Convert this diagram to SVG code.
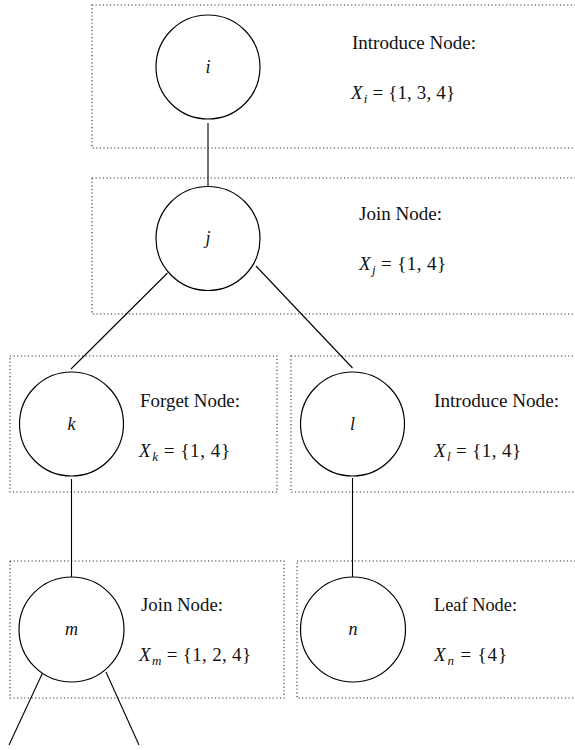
<svg xmlns="http://www.w3.org/2000/svg" width="575" height="750" viewBox="0 0 575 750">
<style>
.box{fill:none;stroke:#222;stroke-width:1.1;stroke-dasharray:1.1 2.5}
.c{fill:#fff;stroke:#000;stroke-width:1.2}
.e{stroke:#000;stroke-width:1.1;fill:none}
text{font-family:"Liberation Serif","DejaVu Serif",serif;font-size:19px;fill:#111}
.v{font-style:italic;text-anchor:middle;font-size:18px}
.it{font-style:italic}
.sub{font-style:italic;font-size:13px}
</style>
<rect width="575" height="750" fill="#fff"/>
<g id="boxes">
<rect class="box" x="92" y="5" width="500" height="143"/>
<rect class="box" x="92" y="178" width="500" height="136"/>
<rect class="box" x="10" y="356" width="267" height="136"/>
<rect class="box" x="291" y="356" width="300" height="136"/>
<rect class="box" x="10" y="561" width="274" height="137"/>
<rect class="box" x="297" y="561" width="300" height="137"/>
</g>
<g id="connectors">
<line class="e" x1="208" y1="123" x2="208" y2="190"/>
<line class="e" x1="167.5" y1="273" x2="71" y2="369"/>
<line class="e" x1="256" y1="266" x2="352.5" y2="368"/>
<line class="e" x1="71.5" y1="479" x2="71.5" y2="582"/>
<line class="e" x1="352.5" y1="478" x2="352.5" y2="582"/>
<line class="e" x1="43" y1="672" x2="9" y2="745"/>
<line class="e" x1="106" y1="672" x2="139" y2="745"/>
</g>
<g id="node-i">
<circle class="c" cx="208" cy="67" r="52"/>
<text class="v" x="208" y="73">i</text>
<text x="352" y="49" textLength="124" lengthAdjust="spacingAndGlyphs">Introduce Node:</text>
<text x="351" y="99" textLength="104" lengthAdjust="spacing"><tspan class="it">X</tspan><tspan class="sub" dx="1" dy="4">i</tspan><tspan dy="-4"> = {1, 3, 4}</tspan></text>
</g>
<g id="node-j">
<circle class="c" cx="208" cy="238.5" r="52"/>
<text class="v" x="208" y="244">j</text>
<text x="359" y="220" textLength="83" lengthAdjust="spacingAndGlyphs">Join Node:</text>
<text x="359" y="270" textLength="87" lengthAdjust="spacing"><tspan class="it">X</tspan><tspan class="sub" dx="1" dy="4">j</tspan><tspan dy="-4"> = {1, 4}</tspan></text>
</g>
<g id="node-k">
<circle class="c" cx="71.5" cy="424" r="52"/>
<text class="v" x="71.5" y="430">k</text>
<text x="140" y="407" textLength="100" lengthAdjust="spacingAndGlyphs">Forget Node:</text>
<text x="139" y="457" textLength="91" lengthAdjust="spacing"><tspan class="it">X</tspan><tspan class="sub" dx="1" dy="4">k</tspan><tspan dy="-4"> = {1, 4}</tspan></text>
</g>
<g id="node-l">
<circle class="c" cx="352.5" cy="424" r="52"/>
<text class="v" x="352.5" y="430">l</text>
<text x="434" y="407" textLength="125" lengthAdjust="spacingAndGlyphs">Introduce Node:</text>
<text x="434" y="457" textLength="87" lengthAdjust="spacing"><tspan class="it">X</tspan><tspan class="sub" dx="1" dy="4">l</tspan><tspan dy="-4"> = {1, 4}</tspan></text>
</g>
<g id="node-m">
<circle class="c" cx="71.5" cy="629.5" r="52.5"/>
<text class="v" x="71.5" y="635">m</text>
<text x="141" y="611" textLength="82" lengthAdjust="spacingAndGlyphs">Join Node:</text>
<text x="139" y="661" textLength="112" lengthAdjust="spacing"><tspan class="it">X</tspan><tspan class="sub" dx="1" dy="4">m</tspan><tspan dy="-4"> = {1, 2, 4}</tspan></text>
</g>
<g id="node-n">
<circle class="c" cx="353" cy="629.5" r="52.5"/>
<text class="v" x="353" y="635">n</text>
<text x="434" y="611" textLength="83" lengthAdjust="spacingAndGlyphs">Leaf Node:</text>
<text x="434" y="661" textLength="73" lengthAdjust="spacing"><tspan class="it">X</tspan><tspan class="sub" dx="1" dy="4">n</tspan><tspan dy="-4"> = {4}</tspan></text>
</g>
</svg>
